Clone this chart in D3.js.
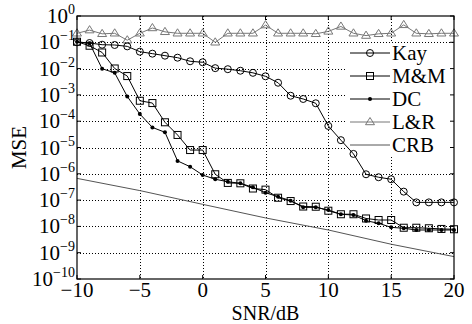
<!DOCTYPE html>
<html>
<head>
<meta charset="utf-8">
<script src="https://cdn.jsdelivr.net/npm/d3@7"></script>
<style>
  body { margin: 0; background: #fff; }
  text { font-family: "Liberation Serif", "Times New Roman", serif; fill: #000; }
</style>
</head>
<body>
<svg id="chart" width="472" height="324"></svg>
<script>
// 数据
const snr = [-10, -9, -8, -7, -6, -5, -4, -3, -2, -1, 0, 1, 2, 3, 4, 5, 6, 7, 8, 9, 10,
             11, 12, 13, 14, 15, 16, 17, 18, 19, 20];
const kay = [0.10, 0.094, 0.081, 0.079, 0.070, 0.044, 0.037, 0.031, 0.026, 0.019, 0.0174,
             0.0104, 0.0095, 0.0083, 0.0069, 0.0051, 0.0029, 9.3e-4, 7.0e-4, 4.8e-4, 6.6e-5,
             1.9e-5, 5.7e-6, 9.6e-7, 7.4e-7, 6.2e-7, 2.1e-7, 8.2e-8, 8.2e-8, 8.2e-8, 8.2e-8];
const mm = [0.105, 0.074, 0.041, 0.0101, 0.0052, 6.0e-4, 4.9e-4, 9.1e-5, 3.0e-5, 8.0e-6, 8.0e-6,
            9.6e-7, 4.5e-7, 4.35e-7, 2.76e-7, 2.5e-7, 1.23e-7, 9.2e-8, 5.7e-8, 5.6e-8, 3.95e-8,
            2.9e-8, 2.9e-8, 2.0e-8, 1.75e-8, 1.75e-8, 8.9e-9, 8.9e-9, 8.5e-9, 8.0e-9, 7.8e-9];
const dc = [0.105, 0.092, 0.0099, 0.0069, 8.7e-4, 1.88e-4, 5.8e-5, 3.8e-5, 3.1e-6, 1.86e-6, 9.0e-7,
            6.2e-7, 5.0e-7, 4.35e-7, 3.07e-7, 1.91e-7, 1.35e-7, 9.5e-8, 5.3e-8, 5.3e-8, 4.2e-8,
            2.9e-8, 2.7e-8, 1.65e-8, 1.31e-8, 9.2e-9, 8.5e-9, 7.3e-9, 7.3e-9, 7.3e-9, 7.3e-9];
const lr = [0.22, 0.29, 0.21, 0.22, 0.12, 0.22, 0.35, 0.25, 0.22, 0.22, 0.22,
            0.10, 0.22, 0.22, 0.22, 0.45, 0.22, 0.22, 0.22, 0.21, 0.26,
            0.40, 0.22, 0.18, 0.21, 0.22, 0.46, 0.22, 0.21, 0.22, 0.22];
const snrCrb = [-10, -5, 0, 5, 10, 15, 20];
const crb = [6.7e-7, 2.3e-7, 6.9e-8, 2.1e-8, 7.3e-9, 2.1e-9, 7.1e-10];

const xTicks = [-10, -5, 0, 5, 10, 15, 20];
const yExps = [0, -1, -2, -3, -4, -5, -6, -7, -8, -9, -10];
const legendNames = ['Kay', 'M&M', 'DC', 'L&R', 'CRB'];

// 画布和比例尺
const svg = d3.select('#chart');
const margin = { top: 16, right: 18, bottom: 45, left: 77 };
const width = 472, height = 324;

const x = d3.scaleLinear().domain([-10, 20]).range([margin.left, width - margin.right]);
const y = d3.scaleLog().domain([1e-10, 1]).range([height - margin.bottom, margin.top]);

const x0 = x.range()[0], x1 = x.range()[1];
const yTop = y.range()[1], yBot = y.range()[0];

// 网格
const grid = svg.append('g')
    .attr('stroke', '#000')
    .attr('stroke-width', 1)
    .attr('stroke-dasharray', '1,2');
grid.selectAll('.gx')
    .data(xTicks.slice(1, -1))
    .enter().append('line')
    .attr('x1', d => Math.round(x(d)) + 0.5).attr('x2', d => Math.round(x(d)) + 0.5)
    .attr('y1', yTop).attr('y2', yBot);
grid.selectAll('.gy')
    .data(yExps.slice(1, -1))
    .enter().append('line')
    .attr('x1', x0).attr('x2', x1)
    .attr('y1', d => Math.round(y(Math.pow(10, d))) + 0.5)
    .attr('y2', d => Math.round(y(Math.pow(10, d))) + 0.5);

// 图例背景
const lg = { x: 345, y: 43, w: x1 - 345, h: 114, row0: 53, step: 23 };
svg.append('rect')
    .attr('x', lg.x).attr('y', lg.y)
    .attr('width', lg.w).attr('height', lg.h)
    .attr('fill', '#fff');

// 标记
function marker(g, type, cx, cy, color) {
    if (type === 'circle') {
        g.append('circle').attr('cx', cx).attr('cy', cy).attr('r', 3.5)
            .attr('fill', 'none').attr('stroke', color);
    } else if (type === 'square') {
        g.append('rect').attr('x', cx - 3.5).attr('y', cy - 3.5).attr('width', 7).attr('height', 7)
            .attr('fill', 'none').attr('stroke', color);
    } else if (type === 'dot') {
        g.append('circle').attr('cx', cx).attr('cy', cy).attr('r', 2)
            .attr('fill', color).attr('stroke', 'none');
    } else if (type === 'tri') {
        const s = 4.5;
        g.append('path')
            .attr('d', `M${cx},${cy - s}L${cx + s},${cy + s * 0.6}L${cx - s},${cy + s * 0.6}Z`)
            .attr('fill', 'none').attr('stroke', color);
    }
}

const series = [
    { name: 'CRB', xs: snrCrb, ys: crb, color: '#555', marker: null },
    { name: 'L&R', xs: snr, ys: lr, color: '#777', marker: 'tri' },
    { name: 'Kay', xs: snr, ys: kay, color: '#000', marker: 'circle' },
    { name: 'M&M', xs: snr, ys: mm, color: '#000', marker: 'square' },
    { name: 'DC', xs: snr, ys: dc, color: '#000', marker: 'dot' }
];

const line = d3.line().x(d => x(d[0])).y(d => y(d[1]));

series.forEach(s => {
    const pts = s.xs.map((v, i) => [v, s.ys[i]]);
    const g = svg.append('g');
    g.append('path')
        .attr('d', line(pts))
        .attr('fill', 'none')
        .attr('stroke', s.color)
        .attr('stroke-width', 1);
    if (s.marker) {
        pts.forEach(p => marker(g, s.marker, x(p[0]), y(p[1]), s.color));
    }
});

// 坐标框
svg.append('rect')
    .attr('x', x0).attr('y', yTop)
    .attr('width', x1 - x0).attr('height', yBot - yTop)
    .attr('fill', 'none').attr('stroke', '#000').attr('stroke-width', 1.2);

// 刻度线
const ticks = svg.append('g').attr('stroke', '#000').attr('stroke-width', 1);
xTicks.forEach(t => {
    ticks.append('line').attr('x1', x(t)).attr('x2', x(t)).attr('y1', yBot).attr('y2', yBot - 4);
    ticks.append('line').attr('x1', x(t)).attr('x2', x(t)).attr('y1', yTop).attr('y2', yTop + 4);
});
yExps.forEach(e => {
    const yy = y(Math.pow(10, e));
    ticks.append('line').attr('x1', x0).attr('x2', x0 + 4).attr('y1', yy).attr('y2', yy);
    ticks.append('line').attr('x1', x1).attr('x2', x1 - 4).attr('y1', yy).attr('y2', yy);
});

// 刻度标签
svg.selectAll('.xlab')
    .data(xTicks)
    .enter().append('text')
    .attr('x', d => x(d))
    .attr('y', yBot + 18)
    .attr('text-anchor', 'middle')
    .attr('font-size', '21px')
    .text(d => d < 0 ? '\u2212' + Math.abs(d) : d);

yExps.forEach(e => {
    const t = svg.append('text')
        .attr('x', x0 - 2)
        .attr('y', y(Math.pow(10, e)) + 7)
        .attr('text-anchor', 'end')
        .attr('font-size', '21px');
    t.append('tspan').text('10');
    t.append('tspan')
        .attr('dy', -9)
        .attr('font-size', '14px')
        .text(e < 0 ? '\u2212' + Math.abs(e) : e);
});

// 轴标题
svg.append('text')
    .attr('x', (x0 + x1) / 2)
    .attr('y', 320)
    .attr('text-anchor', 'middle')
    .attr('font-size', '20px')
    .text('SNR/dB');

svg.append('text')
    .attr('transform', `translate(26,${(yTop + yBot) / 2}) rotate(-90)`)
    .attr('text-anchor', 'middle')
    .attr('font-size', '21px')
    .text('MSE');

// 图例
const legendStyle = {
    'Kay': { color: '#000', marker: 'circle' },
    'M&M': { color: '#000', marker: 'square' },
    'DC': { color: '#000', marker: 'dot' },
    'L&R': { color: '#777', marker: 'tri' },
    'CRB': { color: '#555', marker: null }
};
legendNames.forEach((name, i) => {
    const ly = lg.row0 + i * lg.step;
    const st = legendStyle[name];
    const g = svg.append('g');
    g.append('line')
        .attr('x1', 350).attr('x2', 390)
        .attr('y1', ly).attr('y2', ly)
        .attr('stroke', st.color).attr('stroke-width', 1);
    if (st.marker) marker(g, st.marker, 370, ly, st.color);
    g.append('text')
        .attr('x', 392)
        .attr('y', ly + 7)
        .attr('font-size', '21px')
        .text(name);
});
</script>
</body>
</html>
